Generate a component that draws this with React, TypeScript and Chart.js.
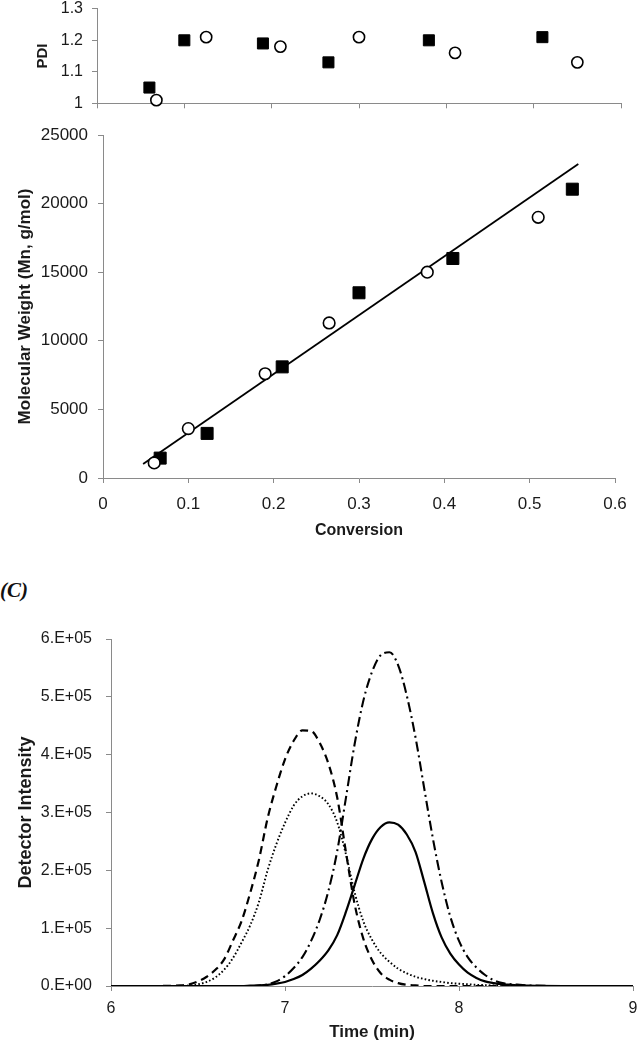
import React, { useEffect, useRef } from 'react';
import { Chart, registerables } from 'chart.js';

Chart.register(...registerables);

const FONT_FAMILY = "'Liberation Sans', Arial, Helvetica, sans-serif";
const AXIS_COLOR = '#8a8a8a';
const TEXT_COLOR = '#1a1a1a';

// ---------- tick labels ----------
const conversionTickLabels = ['0', '0.1', '0.2', '0.3', '0.4', '0.5', '0.6'];
const pdiTickLabels = ['1', '1.1', '1.2', '1.3'];
const mnTickLabels = ['0', '5000', '10000', '15000', '20000', '25000'];
const timeTickLabels = ['6', '7', '8', '9'];
const intensityTickLabels = ['0.E+00', '1.E+05', '2.E+05', '3.E+05', '4.E+05', '5.E+05', '6.E+05'];

// ---------- PDI panel ----------
const pdiSquareConversion = [0.06, 0.10, 0.19, 0.265, 0.38, 0.51];
const pdiSquareValues = [1.05, 1.20, 1.19, 1.13, 1.20, 1.21];
const pdiCircleConversion = [0.068, 0.125, 0.21, 0.30, 0.41, 0.55];
const pdiCircleValues = [1.01, 1.21, 1.18, 1.21, 1.16, 1.13];

// ---------- Mn panel ----------
const mnSquareConversion = [0.067, 0.122, 0.21, 0.30, 0.41, 0.55];
const mnSquareValues = [1450, 3250, 8100, 13500, 16000, 21050];
const mnCircleConversion = [0.06, 0.10, 0.19, 0.265, 0.38, 0.51];
const mnCircleValues = [1100, 3600, 7600, 11300, 15000, 19000];
const fitConversion = [0.047, 0.557];
const fitValues = [1020, 22890];

// ---------- GPC traces (C) ----------
const timeGrid = [
  6.0, 6.2, 6.4, 6.45, 6.5, 6.55, 6.6, 6.65, 6.7, 6.75, 6.8, 6.85, 6.9, 6.95,
  7.0, 7.05, 7.1, 7.15, 7.2, 7.25, 7.3, 7.35, 7.4, 7.45, 7.5, 7.55, 7.6, 7.65,
  7.7, 7.75, 7.8, 7.85, 7.9, 7.95, 8.0, 8.05, 8.1, 8.15, 8.2, 8.25, 8.3, 8.35,
  8.4, 8.6, 9.0,
];
const dashedTrace = [
  0, 0, 1000, 3000, 8000, 16000, 28000, 46000, 78000, 112000, 161000, 218000, 290000, 345000,
  392000, 424000, 442000, 441000, 420000, 384000, 326000, 232000, 142000, 82000, 45000, 22000, 11000, 5000,
  2000, 1000, 0, 0, 0, 0, 0, 0, 0, 0, 0, 0, 0, 0,
  0, 0, 0,
];
const dottedTrace = [
  0, 0, 0, 1000, 3000, 7000, 15000, 28000, 48000, 75000, 105000, 145000, 200000, 245000,
  282000, 312000, 328000, 333000, 328000, 314000, 283000, 228000, 162000, 112000, 80000, 57000, 42000, 30000,
  22000, 16000, 12000, 9000, 7000, 5000, 4000, 3000, 2000, 1500, 1000, 1000, 500, 0,
  0, 0, 0,
];
const dashDotTrace = [
  0, 0, 0, 0, 0, 0, 0, 0, 0, 0, 0, 1000, 3000, 8000,
  17000, 31000, 50000, 78000, 115000, 165000, 233000, 325000, 418000, 493000, 543000, 572000, 577000, 555000,
  502000, 430000, 342000, 255000, 180000, 120000, 78000, 50000, 32000, 19000, 10000, 5000, 3000, 2000,
  1000, 0, 0,
];
const solidTrace = [
  0, 0, 0, 0, 0, 0, 0, 0, 0, 0, 500, 1000, 2000, 4000,
  7000, 12000, 19000, 30000, 44000, 62000, 88000, 128000, 174000, 220000, 254000, 275000, 283000, 279000,
  262000, 232000, 180000, 126000, 84000, 56000, 37000, 23000, 14000, 8000, 5000, 3000, 2000, 1000,
  500, 0, 0,
];

type AxisOpts = {
  min: number;
  max: number;
  step: number;
  labels: string[] | null;
  labelSize?: number;
  labelPadding?: number;
  title?: string;
  titleSize?: number;
  titlePadTop?: number;
  titlePadBottom?: number;
  fixWidth?: number;
  fixHeight?: number;
};

function linearAxis(o: AxisOpts): any {
  return {
    type: 'linear',
    min: o.min,
    max: o.max,
    ticks: {
      stepSize: o.step,
      display: o.labels !== null,
      padding: o.labelPadding ?? 6,
      font: { size: o.labelSize ?? 16, family: FONT_FAMILY },
      color: TEXT_COLOR,
      maxRotation: 0,
      autoSkip: false,
      callback: (_v: any, i: number) => (o.labels ? o.labels[i] : ''),
    },
    grid: {
      display: true,
      drawOnChartArea: false,
      drawTicks: true,
      tickLength: 5,
      color: AXIS_COLOR,
      lineWidth: 1,
    },
    border: { display: true, color: AXIS_COLOR, width: 1 },
    title: o.title
      ? {
          display: true,
          text: o.title,
          color: TEXT_COLOR,
          font: { size: o.titleSize ?? 16, weight: 'bold', family: FONT_FAMILY },
          padding: { top: o.titlePadTop ?? 0, bottom: o.titlePadBottom ?? 0 },
        }
      : { display: false },
    afterFit: (scale: any) => {
      if (o.fixWidth !== undefined) scale.width = o.fixWidth;
      if (o.fixHeight !== undefined) scale.height = o.fixHeight;
      scale.paddingTop = 0;
      scale.paddingBottom = 0;
      scale.paddingLeft = 0;
      scale.paddingRight = 0;
    },
  };
}

const baseOptions = {
  responsive: false,
  animation: false as const,
  devicePixelRatio: 1,
  events: [] as any[],
  plugins: { legend: { display: false }, tooltip: { enabled: false }, title: { display: false } },
};

function pts(xs: number[], ys: number[]) {
  return xs.map((x, i) => ({ x, y: ys[i] }));
}

function squareSet(xs: number[], ys: number[], r: number): any {
  return {
    data: pts(xs, ys),
    pointStyle: 'rect',
    pointRadius: r,
    backgroundColor: '#000',
    borderColor: '#000',
    borderWidth: 1,
    showLine: false,
    clip: false,
    order: 1,
  };
}

function circleSet(xs: number[], ys: number[], r: number): any {
  return {
    data: pts(xs, ys),
    pointStyle: 'circle',
    pointRadius: r,
    backgroundColor: '#fff',
    borderColor: '#000',
    borderWidth: 1.6,
    showLine: false,
    clip: false,
    order: 0,
  };
}

export default function App() {
  const pdiRef = useRef<HTMLCanvasElement>(null);
  const mnRef = useRef<HTMLCanvasElement>(null);
  const gpcRef = useRef<HTMLCanvasElement>(null);

  useEffect(() => {
    Chart.defaults.font.family = FONT_FAMILY;
    Chart.defaults.color = TEXT_COLOR;
    const charts: Chart[] = [];

    // PDI panel: chart area x 97..621, y 7..103.3
    charts.push(
      new Chart(pdiRef.current!, {
        type: 'scatter',
        data: {
          datasets: [
            squareSet(pdiSquareConversion, pdiSquareValues, 7.8),
            circleSet(pdiCircleConversion, pdiCircleValues, 5.6),
          ],
        },
        options: {
          ...baseOptions,
          layout: { padding: { top: 7, right: 18, bottom: 0, left: 0 } },
          scales: {
            x: linearAxis({ min: 0, max: 0.6, step: 0.1, labels: null, fixHeight: 12.7 }),
            y: linearAxis({
              min: 1, max: 1.3, step: 0.1, labels: pdiTickLabels, labelPadding: 9,
              title: 'PDI', titleSize: 15, titlePadTop: 34, fixWidth: 97,
            }),
          },
        } as any,
      })
    );

    // Mn panel: chart area x 103..615, y 135..478 (canvas top 116)
    charts.push(
      new Chart(mnRef.current!, {
        type: 'scatter',
        data: {
          datasets: [
            {
              data: pts(fitConversion, fitValues),
              showLine: true,
              borderColor: '#000',
              borderWidth: 1.8,
              pointRadius: 0,
              fill: false,
              order: 5,
            } as any,
            squareSet(mnSquareConversion, mnSquareValues, 8.5),
            circleSet(mnCircleConversion, mnCircleValues, 5.8),
          ],
        },
        options: {
          ...baseOptions,
          layout: { padding: { top: 19, right: 24, bottom: 0, left: 0 } },
          scales: {
            x: linearAxis({
              min: 0, max: 0.6, step: 0.1, labels: conversionTickLabels, labelSize: 17, labelPadding: 11,
              title: 'Conversion', titleSize: 16, titlePadBottom: 10, fixHeight: 72,
            }),
            y: linearAxis({
              min: 0, max: 25000, step: 5000, labels: mnTickLabels, labelSize: 17, labelPadding: 10,
              title: 'Molecular Weight (Mn, g/mol)', titleSize: 17, titlePadTop: 15, fixWidth: 103,
            }),
          },
        } as any,
      })
    );

    // GPC panel: chart area x 111..633, y 639..986 (canvas top 600)
    const gpcTraces = [
      { values: dashedTrace, dash: [8, 5], width: 2.2 },
      { values: dottedTrace, dash: [1.6, 2.2], width: 1.9 },
      { values: dashDotTrace, dash: [10, 4, 2, 4], width: 2.1 },
      { values: solidTrace, dash: [] as number[], width: 2.2 },
    ];
    charts.push(
      new Chart(gpcRef.current!, {
        type: 'scatter',
        data: {
          datasets: gpcTraces.map((t) => ({
            data: pts(timeGrid, t.values),
            showLine: true,
            borderColor: '#000',
            borderWidth: t.width,
            borderDash: t.dash,
            borderCapStyle: 'butt',
            pointRadius: 0,
            cubicInterpolationMode: 'monotone',
            fill: false,
          })) as any,
        },
        options: {
          ...baseOptions,
          layout: { padding: { top: 39, right: 6, bottom: 0, left: 0 } },
          scales: {
            x: linearAxis({
              min: 6, max: 9, step: 1, labels: timeTickLabels, labelPadding: 8,
              title: 'Time (min)', titleSize: 17, titlePadBottom: 7, fixHeight: 64,
            }),
            y: linearAxis({
              min: 0, max: 600000, step: 100000, labels: intensityTickLabels, labelPadding: 14,
              title: 'Detector Intensity', titleSize: 18, titlePadTop: 15, fixWidth: 111,
            }),
          },
        } as any,
      })
    );

    return () => charts.forEach((c) => c.destroy());
  }, []);

  return (
    <div
      style={{
        position: 'absolute',
        left: 0,
        top: 0,
        width: 639,
        height: 1050,
        background: '#fff',
        overflow: 'hidden',
      }}
    >
      <canvas ref={pdiRef} width={639} height={116} style={{ position: 'absolute', left: 0, top: 0 }} />
      <canvas ref={mnRef} width={639} height={434} style={{ position: 'absolute', left: 0, top: 116 }} />
      <div
        style={{
          position: 'absolute',
          left: 0,
          top: 577,
          font: 'italic bold 21px "Liberation Serif", "Times New Roman", serif',
          lineHeight: '26px',
          color: '#111',
        }}
      >
        (C)
      </div>
      <canvas ref={gpcRef} width={639} height={450} style={{ position: 'absolute', left: 0, top: 600 }} />
    </div>
  );
}
